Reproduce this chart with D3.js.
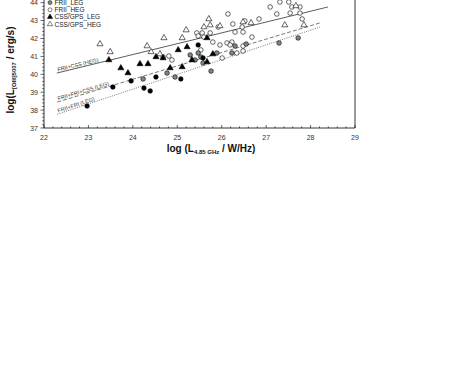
<!DOCTYPE html>
<html><head><meta charset="utf-8">
<script src="https://cdn.jsdelivr.net/npm/d3@7"></script>
<style>body{margin:0;background:#fff}svg{display:block}text{font-family:Arial,"Liberation Sans",sans-serif}</style>
</head><body><svg id="c" width="463" height="382"></svg>
<script>
// ---- data ----
const xTickLabels = [22,23,24,25,26,27,28,29];
const yTickLabels = [37,38,39,40,41,42,43,44];
const legendNames = ["FRII_LEG","FRII_HEG","CSS/GPS_LEG","CSS/GPS_HEG"];

const friLegX = [22.97,23.55,23.96,24.25,24.39,24.52,25.08,25.47,25.58];
const friLegY = [38.23,39.29,39.63,39.23,39.07,39.85,39.74,41.64,40.91];

const friiLegX = [24.23,24.77,24.95,25.29,25.40,25.47,25.53,25.58,25.76,25.89,26.23,26.30,26.55,27.29,27.72];
const friiLegY = [39.74,40.07,39.85,41.08,40.80,41.19,40.97,40.63,40.18,41.19,41.19,41.58,41.69,41.75,42.03];

const friiHegX = [27.09,27.31,27.51,27.58,27.76,27.54,27.76,27.24,27.81,26.84,26.52,26.25,26.46,26.48,26.68,26.30,26.23,26.48,26.48,26.14,25.92,25.44,25.56,25.47,25.74,25.60,25.80,26.12,26.19,25.96,24.68,24.81,24.88,25.53,26.34,26.01];
const friiHegY = [43.76,44.04,44.04,43.76,43.76,43.42,43.42,43.37,43.09,43.09,42.98,42.81,42.64,42.36,42.08,42.36,41.80,41.58,41.30,43.37,42.64,42.31,42.31,42.14,42.31,42.08,41.80,41.75,41.64,41.64,40.97,41.02,40.80,41.36,41.19,40.91];

const cssLegX = [23.46,23.73,23.89,24.16,24.34,24.52,24.84,25.02,25.11,25.22,25.33,25.67,25.67,25.80,24.68];
const cssLegY = [40.80,40.35,40.07,40.58,40.58,40.97,40.35,41.36,40.41,41.53,40.80,42.03,40.69,41.13,40.91];

const cssHegX = [23.26,23.49,24.32,24.70,24.41,24.61,25.11,25.20,25.60,25.71,25.74,25.96,26.48,26.66,27.42,27.85,27.67];
const cssHegY = [41.69,41.25,41.58,42.03,41.25,41.13,42.03,42.47,42.64,43.09,42.75,42.70,42.92,42.87,42.75,42.75,43.82];

// regression lines: [x0, x1] and [y0, y1]
const lineNames = ["FRII+CSS (HEG)","FRII+FRI+CSS (LEG)","FRII+FRI (LEG)"];
const lineX = [[22.29,28.39],[22.30,28.21],[22.30,28.21]];
const lineY = [[40.07,43.76],[38.45,42.87],[37.77,42.64]];

// ---- drawing ----
const svg = d3.select("#c");
const x = d3.scaleLinear().domain([22,29]).range([44,355]);
const y = d3.scaleLinear().domain([37,44]).range([128,2.7]);

// frame
svg.append("path").attr("d",`M${x(22)},${y(44.4)}V${y(37)}H${x(29)}V${y(44.4)}`)
  .attr("fill","none").attr("stroke","#000").attr("stroke-width",0.8);

// x axis ticks (inward)
const gx = svg.append("g");
d3.range(22,29.001,0.2).forEach(v=>{
  const major = Math.abs(v-Math.round(v))<1e-6;
  gx.append("line").attr("x1",x(v)).attr("x2",x(v)).attr("y1",y(37)).attr("y2",y(37)-(major?3:1.6))
    .attr("stroke","#000").attr("stroke-width",0.6);
});
gx.selectAll("text").data(xTickLabels).join("text")
  .attr("x",d=>x(d)).attr("y",y(37)+12).attr("text-anchor","middle")
  .attr("font-size",7).attr("fill","#333").text(d=>d);

// y axis ticks (outward)
const gy = svg.append("g");
d3.range(37,44.001,0.2).forEach(v=>{
  const major = Math.abs(v-Math.round(v))<1e-6;
  gy.append("line").attr("x1",x(22)).attr("x2",x(22)-(major?3.5:1.8)).attr("y1",y(v)).attr("y2",y(v))
    .attr("stroke","#000").attr("stroke-width",0.6);
});
gy.selectAll("text").data(yTickLabels).join("text")
  .attr("x",x(22)-6).attr("y",d=>y(d)+2.5).attr("text-anchor","end")
  .attr("font-size",7).attr("fill","#333").text(d=>d);

// axis titles
const xt = svg.append("text").attr("x",211).attr("y",152).attr("text-anchor","middle")
  .attr("font-size",10).attr("font-weight","bold").attr("fill","#111");
xt.append("tspan").text("log (L");
xt.append("tspan").attr("font-size",6).attr("dy",2).text("4.85 GHz");
xt.append("tspan").attr("dy",-2).text(" / W/Hz)");

const yt = svg.append("text").attr("transform","translate(14,70) rotate(-90)").attr("text-anchor","middle")
  .attr("font-size",10).attr("font-weight","bold").attr("fill","#111");
yt.append("tspan").text("log(L");
yt.append("tspan").attr("font-size",6).attr("dy",2).text("[OIII]5007");
yt.append("tspan").attr("dy",-2).text(" / erg/s)");

// regression lines and labels
const dashes = [null,"4,2","1,1.3"];
const lcol = ["#333","#555","#555"];
lineNames.forEach((nm,i)=>{
  const x0=x(lineX[i][0]), y0=y(lineY[i][0]), x1=x(lineX[i][1]), y1=y(lineY[i][1]);
  svg.append("line").attr("x1",x0).attr("y1",y0).attr("x2",x1).attr("y2",y1)
    .attr("stroke",lcol[i]).attr("stroke-width",0.8).attr("stroke-dasharray",dashes[i]);
  const ang = Math.atan2(y1-y0,x1-x0)*180/Math.PI;
  svg.append("text").attr("transform",`translate(${x0+1},${y0-1.5}) rotate(${ang})`)
    .attr("font-size",5.5).attr("fill","#333").text(nm);
});

// markers
const tri = d3.symbol().type(d3.symbolTriangle).size(16);
function circles(xs,ys,fill){
  svg.append("g").selectAll("circle").data(xs).join("circle")
    .attr("cx",(d,i)=>x(d)).attr("cy",(d,i)=>y(ys[i])).attr("r",2.3)
    .attr("fill",fill).attr("stroke","#000").attr("stroke-width",0.6);
}
function triangles(xs,ys,fill){
  svg.append("g").selectAll("path").data(xs).join("path")
    .attr("transform",(d,i)=>`translate(${x(d)},${y(ys[i])})`).attr("d",tri)
    .attr("fill",fill).attr("stroke","#000").attr("stroke-width",0.6);
}
circles(friiHegX,friiHegY,"#fff");
triangles(cssHegX,cssHegY,"#fff");
circles(friiLegX,friiLegY,"#7b8b8b");
triangles(cssLegX,cssLegY,"#000");
circles(friLegX,friLegY,"#000");

// legend
const lg = svg.append("g");
const lstyle = [["c","#7b8b8b"],["c","#fff"],["t","#000"],["t","#fff"]];
legendNames.forEach((nm,i)=>{
  const cy = 2.6 + i*7.2;
  if(lstyle[i][0]==="c") lg.append("circle").attr("cx",50).attr("cy",cy).attr("r",2)
    .attr("fill",lstyle[i][1]).attr("stroke","#000").attr("stroke-width",0.5);
  else lg.append("path").attr("transform",`translate(50,${cy})`).attr("d",d3.symbol().type(d3.symbolTriangle).size(12))
    .attr("fill",lstyle[i][1]).attr("stroke","#000").attr("stroke-width",0.5);
  lg.append("text").attr("x",54.5).attr("y",cy+2.3).attr("font-size",6.5).attr("fill","#222").text(nm);
});
</script></body></html>
